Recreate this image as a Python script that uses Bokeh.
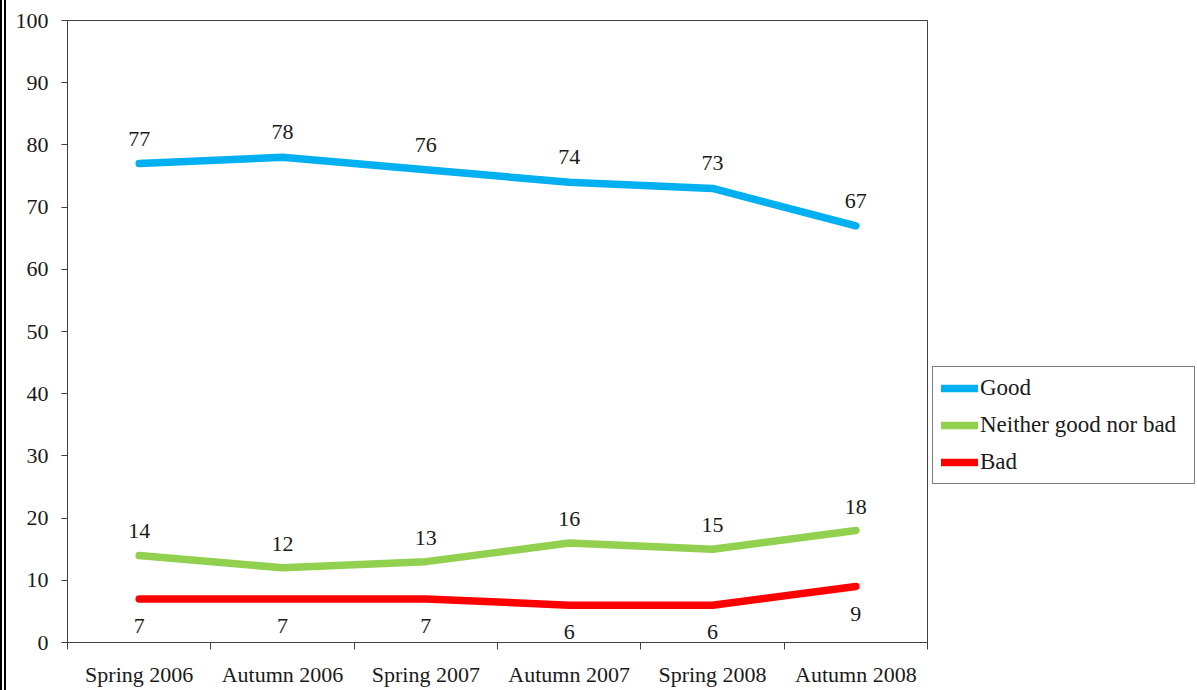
from bokeh.plotting import figure
from bokeh.models import Legend, LegendItem, FixedTicker, ColumnDataSource, LabelSet, Range1d
from bokeh.embed import file_html
from bokeh.resources import INLINE

periods = ["Spring 2006", "Autumn 2006", "Spring 2007", "Autumn 2007", "Spring 2008", "Autumn 2008"]
good = [77, 78, 76, 74, 73, 67]
neither = [14, 12, 13, 16, 15, 18]
bad = [7, 7, 7, 6, 6, 9]
series_names = ["Good", "Neither good nor bad", "Bad"]
series_colors = ["#00B0F0", "#92D050", "#FF0000"]
y_ticks = list(range(0, 101, 10))

FONT = "Liberation Serif"
FS = "22px"
TXT = "#1a1a1a"
AX = "#404040"

xs = [i + 0.5 for i in range(len(periods))]
bounds = list(range(len(periods) + 1))

p = figure(
    frame_width=860, frame_height=622,
    min_border_left=61, min_border_top=20, min_border_bottom=48, min_border_right=0,
    x_range=Range1d(0, len(periods)), y_range=Range1d(0, 100),
    output_backend="svg", toolbar_location=None,
)
p.styles = {"border-left": "6px double black", "border-right": "3px solid black"}
p.xgrid.visible = False
p.ygrid.visible = False
p.outline_line_color = AX
p.outline_line_width = 1

# x axis
p.xaxis.ticker = FixedTicker(ticks=xs, minor_ticks=bounds)
p.xaxis.major_label_overrides = {x: lab for x, lab in zip(xs, periods)}
p.xaxis.major_tick_out = 0
p.xaxis.major_tick_in = 0
p.xaxis.minor_tick_out = 7
p.xaxis.minor_tick_in = 0
p.xaxis.minor_tick_line_color = AX
p.xaxis.axis_line_color = AX
p.xaxis.major_label_standoff = 12
p.xaxis.major_label_text_font = FONT
p.xaxis.major_label_text_font_size = FS
p.xaxis.major_label_text_color = TXT

# y axis
p.yaxis.ticker = FixedTicker(ticks=y_ticks)
p.yaxis.major_tick_out = 6
p.yaxis.major_tick_in = 0
p.yaxis.major_tick_line_color = AX
p.yaxis.minor_tick_line_color = None
p.yaxis.axis_line_color = AX
p.yaxis.major_label_standoff = 13
p.yaxis.major_label_text_font = FONT
p.yaxis.major_label_text_font_size = FS
p.yaxis.major_label_text_color = TXT

items = []
for name, vals, col, off in zip(series_names, [good, neither, bad], series_colors, [25, 24, -27]):
    src = ColumnDataSource(dict(x=xs, y=vals, t=[str(v) for v in vals]))
    r = p.line("x", "y", source=src, line_width=7.5, line_color=col, line_join="round", line_cap="round")
    items.append(LegendItem(label=name, renderers=[r]))
    lbl = LabelSet(x="x", y="y", text="t", source=src, y_offset=off,
                   text_align="center", text_baseline="middle",
                   text_font=FONT, text_font_size=FS, text_color=TXT)
    p.add_layout(lbl)

legend = Legend(items=items, location=(5, 158), border_line_color="black", border_line_width=1,
                label_text_font=FONT, label_text_font_size="23px", label_text_color=TXT,
                glyph_width=37, glyph_height=24, spacing=11, padding=8, label_standoff=2,
                label_width=206, margin=3, background_fill_color="white")
p.add_layout(legend, "right")

open("out.html", "w").write(file_html(p, INLINE))
